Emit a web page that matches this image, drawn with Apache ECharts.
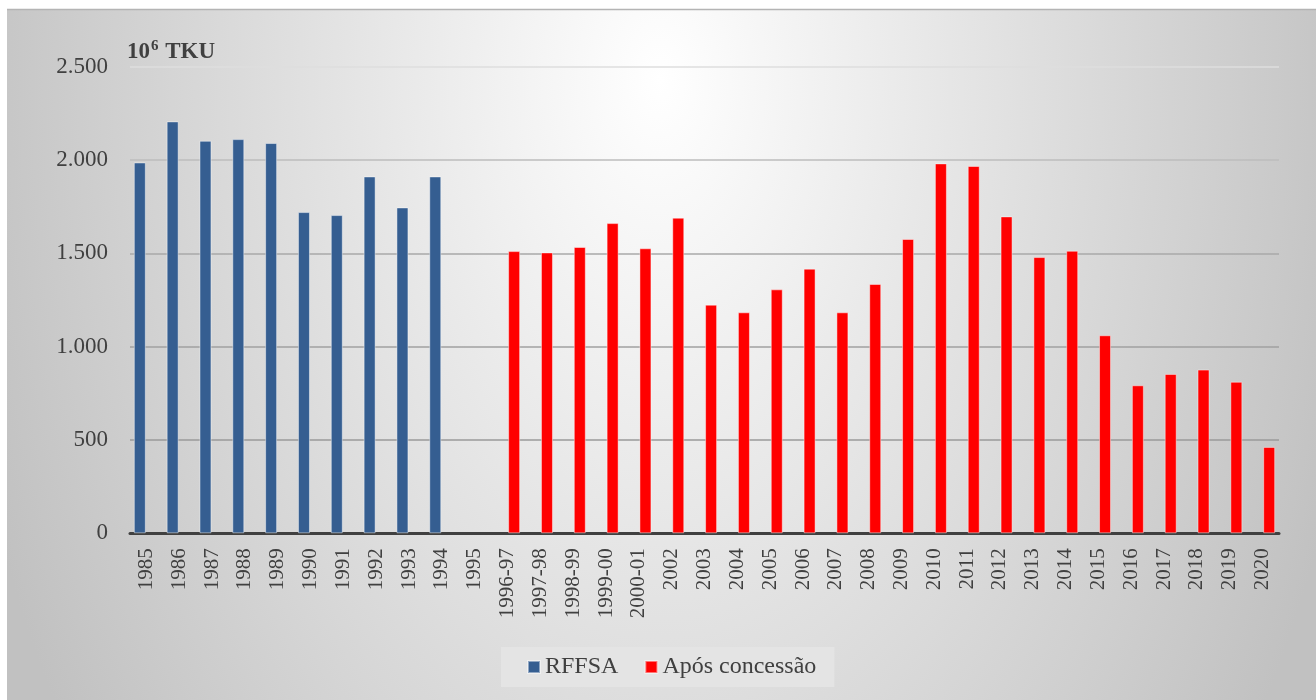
<!DOCTYPE html>
<html>
<head>
<meta charset="utf-8">
<title>TKU RFFSA x Após concessão</title>
<script src="https://cdn.jsdelivr.net/npm/echarts@6/dist/echarts.min.js"></script>
<style>
  html, body { margin: 0; padding: 0; background: #ffffff; }
  #chart { width: 1316px; height: 700px; }
</style>
</head>
<body>
<div id="chart"></div>
<script>
// categorias do eixo x
const categories = [
  "1985", "1986", "1987", "1988", "1989", "1990", "1991", "1992", "1993", "1994", "1995",
  "1996-97", "1997-98", "1998-99", "1999-00", "2000-01",
  "2002", "2003", "2004", "2005", "2006", "2007", "2008", "2009", "2010", "2011",
  "2012", "2013", "2014", "2015", "2016", "2017", "2018", "2019", "2020"
];

// 10^6 TKU, 1985-1994
const rffsaValues = [1987, 2207, 2103, 2112, 2091, 1721, 1705, 1912, 1746, 1912];

// 10^6 TKU, 1996-97 a 2020
const aposValues = [
  1512, 1505, 1534, 1662, 1527, 1691, 1225, 1184, 1307, 1418, 1184, 1336,
  1577, 1982, 1968, 1698, 1480, 1514, 1061, 793, 854, 877, 812, 463
];

const yTicks = [0, 500, 1000, 1500, 2000, 2500];

const aposStart = categories.indexOf("1996-97");
const rffsaData = categories.map((c, i) => (i < rffsaValues.length ? rffsaValues[i] : null));
const aposData = categories.map((c, i) => (i >= aposStart ? aposValues[i - aposStart] : null));

const serif = "'Liberation Serif', 'Times New Roman', serif";
const textColor = "#404040";

const chart = echarts.init(document.getElementById("chart"));

const option = {
  animation: false,
  textStyle: { fontFamily: serif },
  graphic: [
    {
      type: "rect",
      z: -10,
      silent: true,
      x: 0,
      y: 9,
      scaleY: 1.6,
      shape: { x: 7, y: 0, width: 1309, height: 691 / 1.6 },
      style: {
        fill: new echarts.graphic.RadialGradient(660, 44, 720, [
          { offset: 0, color: "#ffffff" },
          { offset: 1, color: "#c1c1c1" }
        ], true)
      }
    },
    {
      type: "line",
      z: -9,
      silent: true,
      shape: { x1: 7, y1: 9.5, x2: 1316, y2: 9.5 },
      style: { stroke: "#b4b4b4", lineWidth: 1.5 }
    }
  ],
  title: {
    text: "{a|10}{sup|6}{a| TKU}",
    left: 122,
    top: 34,
    textStyle: {
      rich: {
        a: { fontFamily: serif, fontSize: 23, fontWeight: "bold", color: textColor },
        sup: {
          fontFamily: serif, fontSize: 15, fontWeight: "bold", color: textColor,
          padding: [0, 1, 12, 1]
        }
      }
    }
  },
  legend: {
    left: 501,
    top: 647,
    padding: [8, 18, 8, 26],
    backgroundColor: "#e4e4e4",
    icon: "rect",
    itemWidth: 12,
    itemHeight: 12,
    itemGap: 26,
    textStyle: { fontFamily: serif, fontSize: 24, color: textColor },
    data: ["RFFSA", "Após concessão"]
  },
  grid: {
    left: 130,
    right: 37,
    top: 66.7,
    bottom: 166.7,
    containLabel: false
  },
  xAxis: {
    type: "category",
    data: categories,
    axisTick: { show: false },
    axisLine: { lineStyle: { color: "#404040", width: 3 } },
    axisLabel: {
      rotate: 90,
      interval: 0,
      margin: 15,
      fontFamily: serif,
      fontSize: 21,
      color: textColor
    }
  },
  yAxis: {
    type: "value",
    min: yTicks[0],
    max: yTicks[yTicks.length - 1],
    interval: 500,
    axisLine: { show: false },
    axisTick: { show: false },
    axisLabel: {
      margin: 22,
      fontFamily: serif,
      fontSize: 23,
      color: textColor,
      formatter: v => String(v).replace(/\B(?=(\d{3})+(?!\d))/g, ".")
    },
    splitLine: {
      lineStyle: {
        color: ["#9a9a9a", "#9a9a9a", "#a0a0a0", "#a8a8a8", "#bcbcbc", "#dedede"],
        width: 1.5
      }
    }
  },
  series: [
    {
      name: "RFFSA",
      type: "bar",
      data: rffsaData,
      barWidth: 12,
      barGap: "10%",
      itemStyle: {
        color: "#355E91",
        borderColor: "rgba(255,255,255,0.45)",
        borderWidth: 1
      }
    },
    {
      name: "Após concessão",
      type: "bar",
      data: aposData,
      barWidth: 12,
      itemStyle: {
        color: "#FF0000",
        borderColor: "rgba(255,255,255,0.45)",
        borderWidth: 1
      }
    }
  ]
};

chart.setOption(option);
</script>
</body>
</html>
